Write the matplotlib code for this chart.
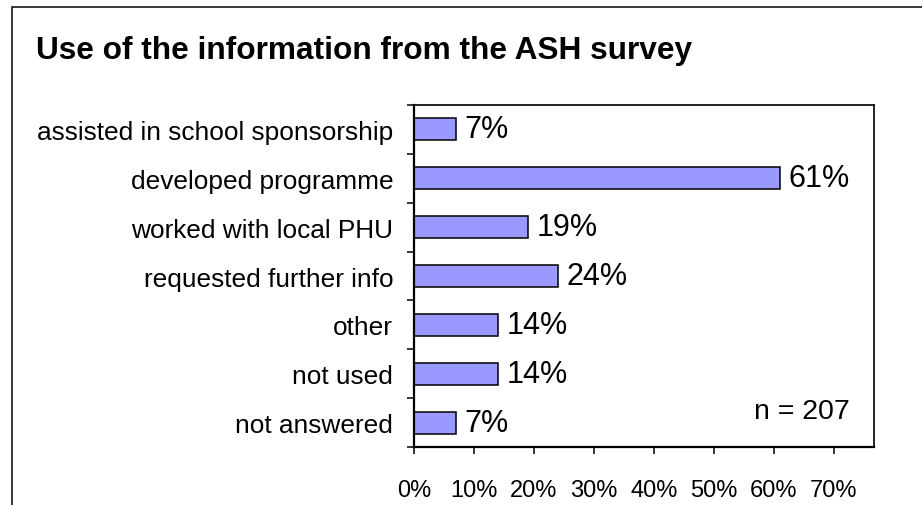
import matplotlib
matplotlib.use("Agg")
import matplotlib.pyplot as plt
from matplotlib.patches import Rectangle
from matplotlib.ticker import FuncFormatter

plt.rcParams['font.family'] = ['Liberation Sans', 'DejaVu Sans']

categories = ['assisted in school sponsorship', 'developed programme',
              'worked with local PHU', 'requested further info',
              'other', 'not used', 'not answered']
values = [0.07, 0.61, 0.19, 0.24, 0.14, 0.14, 0.07]
xticks = [0, 0.1, 0.2, 0.3, 0.4, 0.5, 0.6, 0.7]

W, H = 922, 506
fig = plt.figure(figsize=(W / 100, H / 100), dpi=100)

# outer chart frame (cut off at right and bottom, as in the source)
fig.patches.append(Rectangle((12 / W, -0.1), 1.2, 1.1 - 8 / H,
                             transform=fig.transFigure, fill=False,
                             edgecolor='black', linewidth=1.1))

ax = fig.add_axes([414 / W, 1 - 448 / H, (874 - 414) / W, (448 - 106) / H])

pos = list(range(len(categories)))
ax.barh(pos, values, height=0.45, color='#9999FF', edgecolor='black', linewidth=1.1)

for p, v in zip(pos, values):
    ax.annotate(f'{round(v * 100)}%', (v, p), xytext=(6, 0), textcoords='offset points',
                va='center', ha='left', fontsize=22)

ax.set_xlim(0, 0.767)
ax.set_ylim(len(categories) - 0.5, -0.5)

ax.set_yticks(pos)
ax.set_yticklabels(categories, fontsize=18.9)
ax.set_yticks([i - 0.5 for i in range(len(categories) + 1)], minor=True)
ax.tick_params(axis='y', which='major', length=0, pad=15)
ax.tick_params(axis='y', which='minor', length=5, width=1.1, direction='out')

ax.set_xticks(xticks)
ax.xaxis.set_major_formatter(FuncFormatter(lambda x, _: f'{round(x * 100)}%'))
ax.tick_params(axis='x', which='major', length=5, width=1.1, direction='out',
               labelsize=17, pad=18)

for s in ['left', 'bottom']:
    ax.spines[s].set_linewidth(1.6)
for s in ['top', 'right']:
    ax.spines[s].set_linewidth(1.2)

ax.text(0.948, 0.105, 'n = 207', transform=ax.transAxes, ha='right', va='center',
        fontsize=20.5)

fig.text(36 / W, 1 - 51 / H, 'Use of the information from the ASH survey',
         ha='left', va='center', fontsize=22.8, fontweight='bold')

fig.savefig('out.png', dpi=100)
